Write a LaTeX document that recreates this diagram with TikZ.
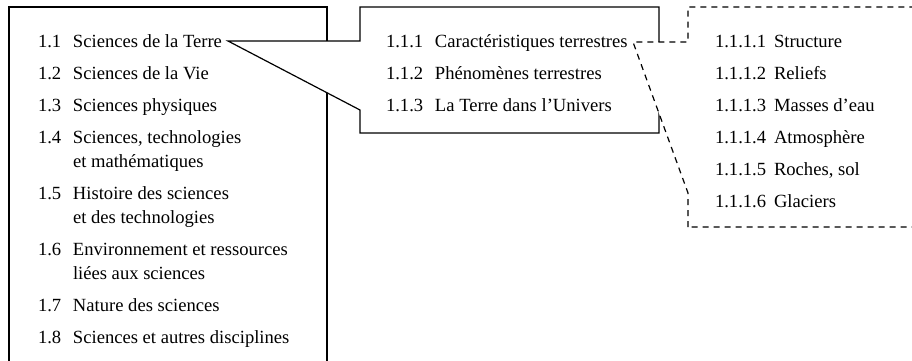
\documentclass[tikz,border=0pt]{standalone}
\usepackage{fontspec}
\setmainfont{Liberation Serif}
\usepackage{tikz}
\newcommand{\lstfont}{\fontsize{18.6}{24}\selectfont}

\begin{document}
\begin{tikzpicture}[x=1pt,y=-1pt]

\tikzset{
	frame/.style={
		draw=black,
		line width=1.2pt,
		line join=miter},
	callout/.style={
		frame,
		fill=white},
	dcallout/.style={
		callout,
		dash pattern=on 6pt off 5pt},
	lst/.style={
		anchor=base west,
		inner sep=0pt,
		outer sep=0pt,
		font=\lstfont}
}

\useasboundingbox (0,0) rectangle (912,360);
\clip (0,0) rectangle (912,360);

% corners of the three frames
\coordinate (sci-nw) at (9,7);
\coordinate (sci-se) at (327,400);
\coordinate (ter-nw) at (360,7);
\coordinate (ter-se) at (659,133);
\coordinate (car-nw) at (688,7);
\coordinate (car-se) at (930,227);

% tips of the two callouts
\coordinate (tip1) at (228,41);
\coordinate (tip2) at (633,42);

\draw[frame] (sci-nw) rectangle (sci-se);

\draw[callout] (ter-nw) -| (ter-se) -| (360,110) -- (tip1) -- (360,41) -- cycle;

\draw[dcallout] (car-se -| car-nw) -- (688,193) -- (tip2) -- (688,42) -- (car-nw) -| (car-se) -- cycle;

\node[lst] (sci) at (38,47) {
	\begin{tabular}[t]{@{}p{35pt}@{}l@{}}
	1.1 & Sciences de la Terre \\[8pt]
	1.2 & Sciences de la Vie \\[8pt]
	1.3 & Sciences physiques \\[8pt]
	1.4 & Sciences, technologies \\
	    & et mathématiques \\[8pt]
	1.5 & Histoire des sciences \\
	    & et des technologies \\[8pt]
	1.6 & Environnement et ressources \\
	    & liées aux sciences \\[8pt]
	1.7 & Nature des sciences \\[8pt]
	1.8 & Sciences et autres disciplines
	\end{tabular}
	};

\node[lst] (ter) at (386,47) {
	\begin{tabular}[t]{@{}p{49pt}@{}l@{}}
	1.1.1 & Caractéristiques terrestres \\[8pt]
	1.1.2 & Phénomènes terrestres \\[8pt]
	1.1.3 & La Terre dans l’Univers
	\end{tabular}
	};

\node[lst] (car) at (715,47) {
	\begin{tabular}[t]{@{}p{59pt}@{}l@{}}
	1.1.1.1 & Structure \\[8pt]
	1.1.1.2 & Reliefs \\[8pt]
	1.1.1.3 & Masses d’eau \\[8pt]
	1.1.1.4 & Atmosphère \\[8pt]
	1.1.1.5 & Roches, sol \\[8pt]
	1.1.1.6 & Glaciers
	\end{tabular}
	};

\end{tikzpicture}
\end{document}
